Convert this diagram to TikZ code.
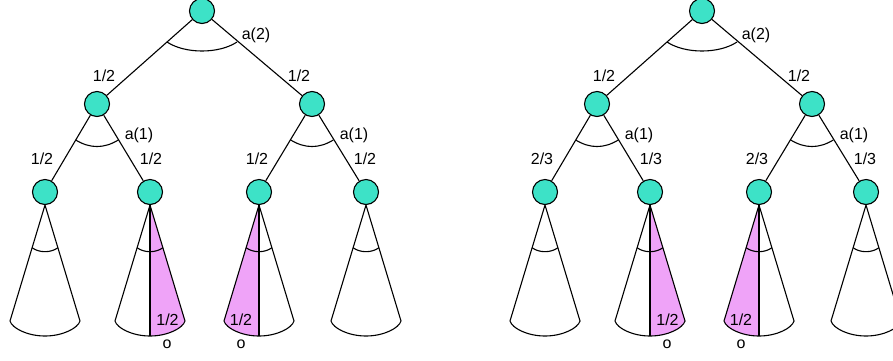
\documentclass[tikz,border=0pt]{standalone}
\usepackage{fontspec}
\setmainfont{Liberation Sans}
\definecolor{turq}{HTML}{3DE2C7}
\definecolor{pinkf}{HTML}{EFA3F8}
\tikzset{
  tnode/.style={circle,draw=black,fill=turq,line width=1.1pt,minimum size=25pt,inner sep=0pt},
  edge/.style={line width=1.1pt,line join=round},
  lbl/.style={font=\fontsize{16}{18}\selectfont,inner sep=0pt},
}
% cone below a node: #1 = x of centre, #2 = node name
\newcommand{\conebody}[2]{%
  \draw[edge] ({#1-35},321) -- (#2.south) -- ({#1+35},321)
     .. controls ({#1+33},328) and ({#1+18},336) .. ({#1},336)
     .. controls ({#1-18},336) and ({#1-33},328) .. cycle;
  \draw[edge] ({#1-12.9},247.7) .. controls ({#1-6},253) and ({#1+6},253) .. ({#1+12.9},247.7);
}
\newcommand{\pinkright}[2]{%
  \fill[pinkf] (#2.south) -- ({#1+35},321) .. controls ({#1+33},328) and ({#1+18},336) .. ({#1},336) -- cycle;
  \draw[edge] (#2.south) -- ({#1},336);
}
\newcommand{\pinkleft}[2]{%
  \fill[pinkf] (#2.south) -- ({#1-35},321) .. controls ({#1-33},328) and ({#1-18},336) .. ({#1},336) -- cycle;
  \draw[edge] (#2.south) -- ({#1},336);
}
% #1 offset, #2 prefix, #3 #4 labels of the lower left/right edges
\newcommand{\mytree}[4]{%
  \node[tnode] (#2r) at ({#1+202},11) {};
  \node[tnode] (#2a) at ({#1+97},104) {};
  \node[tnode] (#2b) at ({#1+312},104) {};
  \node[tnode] (#2c) at ({#1+45},192) {};
  \node[tnode] (#2d) at ({#1+150},192) {};
  \node[tnode] (#2e) at ({#1+259},192) {};
  \node[tnode] (#2f) at ({#1+366},192) {};
  \draw[edge] (#2r) -- (#2a);
  \draw[edge] (#2r) -- (#2b);
  \draw[edge] (#2a) -- (#2c);
  \draw[edge] (#2a) -- (#2d);
  \draw[edge] (#2b) -- (#2e);
  \draw[edge] (#2b) -- (#2f);
  \draw[edge] ({#1+167},42) .. controls ({#1+185},54) and ({#1+219},54) .. ({#1+237},42);
  \draw[edge] ({#1+97-21.3},140) .. controls ({#1+97-7},148.7) and ({#1+97+7},148.7) .. ({#1+97+21.3},140);
  \draw[edge] ({#1+312-21.3},140) .. controls ({#1+312-7},148.7) and ({#1+312+7},148.7) .. ({#1+312+21.3},140);
  \pinkright{#1+150}{#2d}
  \pinkleft{#1+259}{#2e}
  \conebody{#1+45}{#2c}
  \conebody{#1+150}{#2d}
  \conebody{#1+259}{#2e}
  \conebody{#1+366}{#2f}
  \node[lbl] (#2la2) at ({#1+256},35) {a(2)};
  \node[lbl] (#2lp1) at ({#1+104},76) {1/2};
  \node[lbl] (#2lp2) at ({#1+299},76) {1/2};
  \node[lbl] (#2la1) at ({#1+139},135) {a(1)};
  \node[lbl] (#2lb1) at ({#1+354},135) {a(1)};
  \node[lbl] (#2lq1) at ({#1+42},159) {#3};
  \node[lbl] (#2lq2) at ({#1+151},159) {#4};
  \node[lbl] (#2lq3) at ({#1+257},159) {#3};
  \node[lbl] (#2lq4) at ({#1+365},159) {#4};
  \node[lbl] (#2h1) at ({#1+167.5},320) {1/2};
  \node[lbl] (#2h2) at ({#1+241},320) {1/2};
  \node[lbl] (#2o1) at ({#1+167},344) {o};
  \node[lbl] (#2o2) at ({#1+241},344) {o};
}
\begin{document}
\begin{tikzpicture}[x=1pt,y=-1pt]
  \useasboundingbox (0,0) rectangle (893,360);
  \mytree{0}{L}{1/2}{1/2}
  \mytree{500}{R}{2/3}{1/3}
\end{tikzpicture}
\end{document}
